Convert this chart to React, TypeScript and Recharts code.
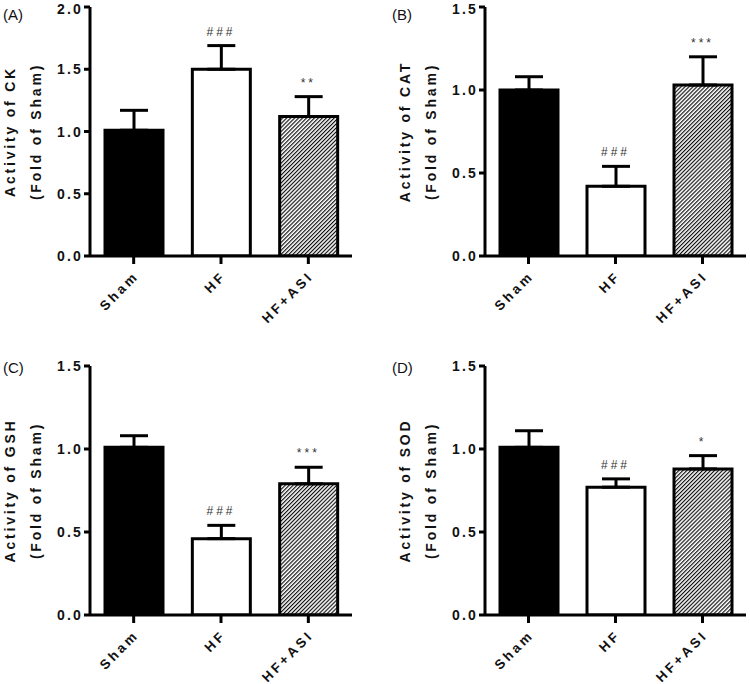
import React from 'react';
import { ComposedChart, Bar, Line, XAxis, YAxis, ErrorBar, Cell, LabelList, Label } from 'recharts';

const categories = ['Sham', 'HF', 'HF+ASI'];

const ckMean = [1.01, 1.5, 1.12];
const ckErr = [0.16, 0.19, 0.16];
const ckSig = ['', '###', '**'];

const catMean = [1.0, 0.42, 1.03];
const catErr = [0.08, 0.12, 0.17];
const catSig = ['', '###', '***'];

const gshMean = [1.01, 0.46, 0.79];
const gshErr = [0.07, 0.08, 0.1];
const gshSig = ['', '###', '***'];

const sodMean = [1.01, 0.77, 0.88];
const sodErr = [0.1, 0.05, 0.08];
const sodSig = ['', '###', '*'];

const ckTicks = [0, 0.5, 1, 1.5, 2];
const otherTicks = [0, 0.5, 1, 1.5];

const FONT = '"Liberation Sans", Arial, Helvetica, sans-serif';

type PanelProps = {
  id: string;
  letter: string;
  title: string;
  mean: number[];
  err: number[];
  sig: string[];
  ticks: number[];
  left: number;
  top: number;
  axisWidth: number;
  xAxisHeight: number;
  margin: { top: number; right: number; bottom: number; left: number };
  letterX: number;
  letterY: number;
};

const XTick = (props: any) => {
  const { x, y, payload } = props;
  return (
    <g transform={`translate(${x + 6},${y + 11})`}>
      <text
        x={0}
        y={0}
        textAnchor="end"
        transform="rotate(-45)"
        fontFamily={FONT}
        fontWeight="bold"
        fontSize={13.5}
        letterSpacing={3}
        fill="#111"
      >
        {payload.value}
      </text>
    </g>
  );
};

const YTick = (props: any) => {
  const { x, y, payload } = props;
  return (
    <text
      x={x + 2}
      y={y}
      dy={5}
      textAnchor="end"
      fontFamily={FONT}
      fontWeight="bold"
      fontSize={14}
      letterSpacing={2.2}
      fill="#111"
    >
      {Number(payload.value).toFixed(1)}
    </text>
  );
};

function Panel(p: PanelProps) {
  const data = categories.map((c, i) => ({
    name: c,
    value: p.mean[i],
    err: [0, p.err[i]],
    top: p.mean[i] + p.err[i],
    sig: p.sig[i],
  }));
  const hatchId = `hatch-${p.id}`;
  const fills = ['#000000', '#ffffff', `url(#${hatchId})`];
  const domainMax = p.ticks[p.ticks.length - 1];

  const renderYLabel = (lp: any) => {
    const vb = lp.viewBox || {};
    const axisX = vb.x + vb.width;
    const cy = vb.y + vb.height / 2;
    const x1 = axisX - 80;
    const x2 = axisX - 54;
    return (
      <g>
        <text
          x={x1}
          y={cy}
          transform={`rotate(-90, ${x1}, ${cy})`}
          textAnchor="middle"
          dominantBaseline="central"
          fontFamily={FONT}
          fontWeight="bold"
          fontSize={14}
          letterSpacing={2.8}
          fill="#111"
        >
          {p.title}
        </text>
        <text
          x={x2}
          y={cy}
          transform={`rotate(-90, ${x2}, ${cy})`}
          textAnchor="middle"
          dominantBaseline="central"
          fontFamily={FONT}
          fontWeight="bold"
          fontSize={14}
          letterSpacing={2.8}
          fill="#111"
        >
          (Fold of Sham)
        </text>
      </g>
    );
  };

  return (
    <div style={{ position: 'absolute', left: p.left, top: p.top, width: 375, height: 342 }}>
      <ComposedChart width={375} height={342} data={data} margin={p.margin}>
        <defs>
          <pattern
            id={hatchId}
            patternUnits="userSpaceOnUse"
            width={2.8}
            height={2.8}
            patternTransform="rotate(45)"
          >
            <rect x={0} y={0} width={2.8} height={2.8} fill="#ffffff" />
            <line x1={0.6} y1={0} x2={0.6} y2={2.8} stroke="#000" strokeWidth={1.1} />
          </pattern>
        </defs>
        <XAxis
          dataKey="name"
          type="category"
          tick={<XTick />}
          tickSize={8}
          tickMargin={2}
          axisLine={{ stroke: '#000', strokeWidth: 3 }}
          tickLine={{ stroke: '#000', strokeWidth: 3 }}
          interval={0}
          height={p.xAxisHeight}
        />
        <YAxis
          type="number"
          domain={[0, domainMax]}
          ticks={p.ticks}
          width={p.axisWidth}
          tick={<YTick />}
          tickSize={6}
          tickMargin={3}
          axisLine={{ stroke: '#000', strokeWidth: 3 }}
          tickLine={{ stroke: '#000', strokeWidth: 3 }}
          allowDataOverflow
        >
          <Label content={renderYLabel} />
        </YAxis>
        <Bar dataKey="value" barSize={58} stroke="#000" strokeWidth={3} isAnimationActive={false}>
          {data.map((d, i) => (
            <Cell key={d.name} fill={fills[i]} />
          ))}
          <ErrorBar dataKey="err" width={14} stroke="#000" strokeWidth={3} direction="y" />
        </Bar>
        <Line
          dataKey="top"
          stroke="none"
          dot={false}
          activeDot={false}
          isAnimationActive={false}
          legendType="none"
        >
          <LabelList
            dataKey="sig"
            content={(lp: any) => (
              <text
                x={lp.x}
                y={lp.y - 10}
                textAnchor="middle"
                fontFamily={FONT}
                fontSize={12}
                letterSpacing={3}
                fill="#333"
              >
                {lp.value}
              </text>
            )}
          />
        </Line>
      </ComposedChart>
      <div
        style={{
          position: 'absolute',
          left: p.letterX,
          top: p.letterY,
          fontFamily: FONT,
          fontSize: 15,
          lineHeight: '15px',
          color: '#111',
        }}
      >
        {p.letter}
      </div>
    </div>
  );
}

export default function App() {
  return (
    <div style={{ position: 'absolute', left: 0, top: 0, width: 750, height: 684, background: '#fff' }}>
      <Panel
        id="a"
        letter="(A)"
        title="Activity of CK"
        mean={ckMean}
        err={ckErr}
        sig={ckSig}
        ticks={ckTicks}
        left={0}
        top={0}
        axisWidth={90}
        xAxisHeight={86}
        margin={{ top: 7, right: 23, bottom: 0, left: 0 }}
        letterX={3}
        letterY={7}
      />
      <Panel
        id="b"
        letter="(B)"
        title="Activity of CAT"
        mean={catMean}
        err={catErr}
        sig={catSig}
        ticks={otherTicks}
        left={375}
        top={0}
        axisWidth={110}
        xAxisHeight={86}
        margin={{ top: 7, right: 4, bottom: 0, left: 0 }}
        letterX={17}
        letterY={7}
      />
      <Panel
        id="c"
        letter="(C)"
        title="Activity of GSH"
        mean={gshMean}
        err={gshErr}
        sig={gshSig}
        ticks={otherTicks}
        left={0}
        top={342}
        axisWidth={90}
        xAxisHeight={69}
        margin={{ top: 24, right: 23, bottom: 0, left: 0 }}
        letterX={3}
        letterY={18}
      />
      <Panel
        id="d"
        letter="(D)"
        title="Activity of SOD"
        mean={sodMean}
        err={sodErr}
        sig={sodSig}
        ticks={otherTicks}
        left={375}
        top={342}
        axisWidth={110}
        xAxisHeight={69}
        margin={{ top: 24, right: 4, bottom: 0, left: 0 }}
        letterX={17}
        letterY={18}
      />
    </div>
  );
}
